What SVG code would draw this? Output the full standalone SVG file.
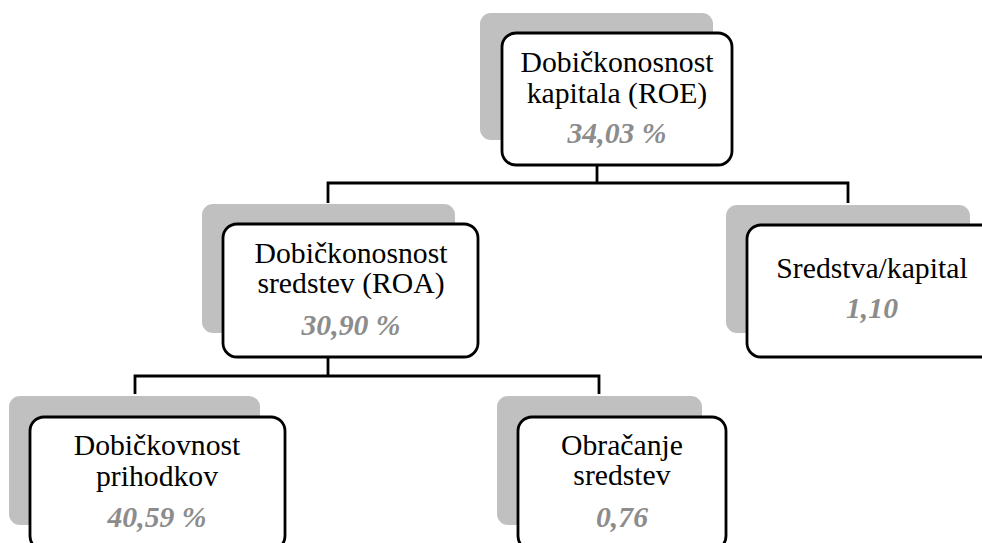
<svg xmlns="http://www.w3.org/2000/svg" width="982" height="543" viewBox="0 0 982 543">
<style>
.sh{fill:#c0c0c0;}
.bx{fill:#ffffff;stroke:#000000;stroke-width:2.8;}
.t{font-family:'Liberation Serif','Times New Roman','DejaVu Serif',serif;font-size:29.7px;fill:#000000;text-anchor:middle;}
.v{font-family:'Liberation Serif','Times New Roman','DejaVu Serif',serif;font-size:29.7px;font-weight:bold;font-style:italic;fill:#8c8c8c;text-anchor:middle;}
.ln{fill:none;stroke:#000000;stroke-width:2.8;}
</style>
<rect width="982" height="543" fill="#ffffff"/>
<g id="connectors">
<path class="ln" d="M597,165 V183 M328,203 V183 H848 V203"/>
<path class="ln" d="M328,357 V376 M135,394 V376 H599 V394"/>
</g>
<g id="roe">
<rect class="sh" x="480" y="13" width="233" height="127" rx="11"/>
<rect class="bx" x="502" y="33" width="230" height="132" rx="14"/>
<text class="t" x="617" y="72">Dobičkonosnost</text>
<text class="t" x="617" y="103">kapitala (ROE)</text>
<text class="v" x="617" y="143">34,03 %</text>
</g>
<g id="roa">
<rect class="sh" x="202" y="204" width="253" height="129" rx="11"/>
<rect class="bx" x="223" y="224" width="255" height="133" rx="14"/>
<text class="t" x="351" y="263">Dobičkonosnost</text>
<text class="t" x="351" y="293">sredstev (ROA)</text>
<text class="v" x="351" y="335">30,90 %</text>
</g>
<g id="sk">
<rect class="sh" x="726" y="205" width="244" height="128" rx="11"/>
<rect class="bx" x="747" y="225" width="255" height="132" rx="14"/>
<text class="t" x="872" y="278">Sredstva/kapital</text>
<text class="v" x="872" y="318">1,10</text>
</g>
<g id="dp">
<rect class="sh" x="9" y="396" width="251" height="129" rx="11"/>
<rect class="bx" x="30" y="417" width="255" height="133" rx="14"/>
<text class="t" x="157" y="455">Dobičkovnost</text>
<text class="t" x="157" y="486">prihodkov</text>
<text class="v" x="157" y="527">40,59 %</text>
</g>
<g id="os">
<rect class="sh" x="497" y="396" width="205" height="129" rx="11"/>
<rect class="bx" x="518" y="417" width="208" height="133" rx="14"/>
<text class="t" x="622" y="455">Obračanje</text>
<text class="t" x="622" y="485">sredstev</text>
<text class="v" x="622" y="527">0,76</text>
</g>
</svg>
